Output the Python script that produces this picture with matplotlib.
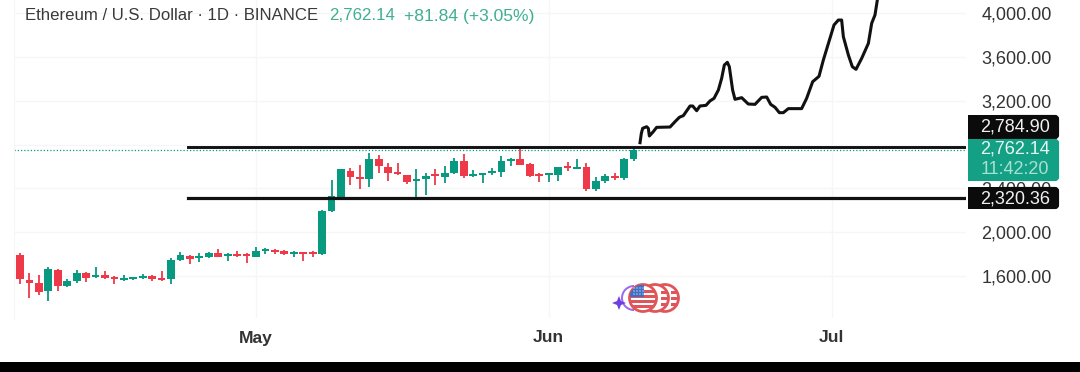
import numpy as np
from matplotlib import pyplot as plt
from matplotlib.patches import Rectangle, Circle, FancyBboxPatch, Wedge, Polygon

plt.rcParams['font.family'] = ['Liberation Sans', 'DejaVu Sans']

opens = [1795, 1563, 1539, 1460, 1655, 1508, 1551, 1630, 1588, 1612, 1584, 1563, 1572, 1578, 1600, 1578,
         1569, 1746, 1782, 1764, 1770, 1813, 1785, 1801, 1791, 1776, 1825, 1834, 1825, 1801, 1813, 1810,
         1801, 2190, 2324, 2562, 2501, 2482, 2665, 2598, 2537, 2519, 2470, 2489, 2522, 2507, 2537, 2653,
         2516, 2519, 2540, 2552, 2650, 2665, 2623, 2528, 2522, 2525, 2604, 2580, 2595, 2397, 2467, 2510,
         2492, 2665]
highs = [1807, 1624, 1606, 1685, 1661, 1575, 1655, 1636, 1679, 1648, 1600, 1606, 1594, 1618, 1606, 1648,
         1764, 1819, 1788, 1813, 1822, 1843, 1813, 1831, 1807, 1861, 1855, 1843, 1837, 1825, 1816, 1831,
         2202, 2476, 2574, 2583, 2613, 2720, 2705, 2629, 2635, 2522, 2574, 2537, 2574, 2604, 2674, 2714,
         2568, 2537, 2583, 2696, 2674, 2775, 2635, 2537, 2537, 2598, 2641, 2665, 2629, 2507, 2528, 2537,
         2674, 2781]
lows = [1527, 1402, 1429, 1374, 1466, 1496, 1533, 1548, 1581, 1569, 1527, 1551, 1560, 1572, 1557, 1557,
        1527, 1734, 1709, 1731, 1764, 1770, 1734, 1770, 1721, 1773, 1801, 1801, 1788, 1770, 1740, 1770,
        1795, 2181, 2309, 2431, 2394, 2409, 2543, 2470, 2519, 2437, 2318, 2339, 2431, 2446, 2531, 2492,
        2501, 2452, 2519, 2501, 2604, 2613, 2501, 2461, 2461, 2464, 2562, 2574, 2379, 2376, 2452, 2476,
        2476, 2653]
closes = [1569, 1539, 1457, 1661, 1508, 1554, 1630, 1581, 1612, 1578, 1572, 1572, 1584, 1603, 1572, 1566,
          1746, 1788, 1755, 1776, 1810, 1776, 1798, 1785, 1782, 1828, 1837, 1822, 1798, 1813, 1804, 1801,
          2193, 2330, 2574, 2501, 2489, 2665, 2604, 2537, 2528, 2461, 2482, 2513, 2513, 2537, 2653, 2513,
          2528, 2534, 2556, 2647, 2665, 2616, 2516, 2516, 2534, 2592, 2589, 2592, 2394, 2464, 2513, 2498,
          2665, 2750]

# hand drawn projection, x in candles
drawn_x = [65.68, 65.82, 65.96, 66.38, 66.56, 66.67, 67.09, 67.44, 68.86, 69.39, 69.85, 70.27, 70.98, 71.26,
           71.68, 72.03, 72.67, 73.09, 73.52, 73.98, 74.33, 74.61, 74.93, 75.14, 75.49, 75.74, 76.45, 77.15,
           77.86, 78.57, 79.10, 79.52, 79.98, 80.44, 80.86, 81.39, 82.80, 83.33, 83.97, 84.64, 85.10, 85.80,
           86.23, 86.69, 87.04, 87.22, 87.75, 88.17, 88.56, 89.16, 89.87, 90.22, 90.57, 90.82, 91.0]
drawn_y = [2817, 2902, 2948, 2963, 2948, 2878, 2918, 2957, 2960, 3009, 3049, 3064, 3152, 3152,
           3109, 3152, 3158, 3198, 3222, 3298, 3405, 3526, 3551, 3511, 3298, 3213, 3228, 3170,
           3167, 3231, 3234, 3167, 3140, 3091, 3091, 3128, 3128, 3222, 3374, 3423, 3572, 3770,
           3892, 3937, 3937, 3785, 3618, 3511, 3487, 3587, 3724, 3907, 3983, 4120, 4180]

price_ticks = [1600, 2000, 2400, 2800, 3200, 3600, 4000]
price_labels = ['1,600.00', '2,000.00', '2,400.00', '', '3,200.00', '3,600.00', '4,000.00']  # 2,800 sits behind the tags
month_pos = [25, 56, 86]
month_labels = ['May', 'Jun', 'Jul']
support = 2309
resistance = 2780
last_line = 2750

green = '#089981'
red = '#ee3a48'
grid = '#f5f6f8'
W, H = 1080, 372

fig = plt.figure(figsize=(W / 100, H / 100), dpi=100, facecolor='white')
ax = fig.add_axes([14 / W, 1 - 318 / H, 952 / W, 318 / H])
ax.set_xlim((14 - 20) / 9.44, (966 - 20) / 9.44)
ax.set_ylim(1216, 4120)

idx = np.arange(len(opens))
o, h, l, c = map(np.array, (opens, highs, lows, closes))
cols = [green if b >= a else red for a, b in zip(o, c)]

ax.vlines(idx, l, h, colors=cols, lw=1.3, zorder=3)
ax.bar(idx, np.maximum(np.abs(c - o), 18), bottom=np.minimum(o, c), width=0.82, color=cols, zorder=3)

ax.axhline(last_line, color=green, lw=0.9, ls=(0, (1, 1.6)), zorder=2)
x_start = (188 - 20) / 9.44
ax.plot([x_start, 101], [resistance] * 2, color='#111111', lw=2.1, zorder=4)
ax.plot([x_start, 101], [support] * 2, color='#111111', lw=2.3, zorder=4)
ax.plot(drawn_x, drawn_y, color='#111111', lw=2.2, zorder=5, solid_joinstyle='round')

ax.set_yticks(price_ticks)
ax.set_yticklabels(price_labels, fontsize=13, color='#333333')
ax.yaxis.tick_right()
ax.set_xticks(month_pos)
ax.set_xticklabels(month_labels, fontsize=12.6, fontweight='bold', color='#333333')
ax.tick_params(axis='both', length=0)
ax.tick_params(axis='y', pad=11)
ax.tick_params(axis='x', pad=9)
ax.grid(True, color=grid, lw=1)
ax.set_axisbelow(True)
for s in ['top', 'right', 'bottom']:
    ax.spines[s].set_visible(False)
ax.spines['left'].set_color(grid)

# overlay in pixels for the tags, header and icon
ov = fig.add_axes([0, 0, 1, 1])
ov.set_xlim(0, W)
ov.set_ylim(H, 0)
ov.axis('off')


def tag(y0, y1, color):
    ov.add_patch(Rectangle((968, y0), 60, y1 - y0, color=color, lw=0))
    ov.add_patch(FancyBboxPatch((1000, y0 + 2), 57, y1 - y0 - 4, boxstyle='round,pad=0,rounding_size=2',
                                mutation_aspect=1, fc=color, ec=color, lw=3))


tag(115, 139, '#0b0b0b')
tag(187, 209, '#0b0b0b')
tag(139, 181, '#14a085')
tag_font = dict(fontsize=13, ha='center', va='center')
ov.text(1015, 126.5, '2,784.90', color='#f0f0f0', **tag_font)
ov.text(1015, 149.5, '2,762.14', color='#e8f6f2', **tag_font)
ov.text(1015, 169, '11:42:20', color='#a8e0d2', **tag_font)
ov.text(1015, 198.5, '2,320.36', color='#f0f0f0', **tag_font)

ov.text(25, 16, 'Ethereum / U.S. Dollar · 1D · BINANCE', fontsize=12.1, color='#3a3a3a', va='center')
ov.text(329, 16, '2,762.14', fontsize=12.2, color='#3fae92', va='center')
ov.text(404, 16, '+81.84 (+3.05%)', fontsize=12.6, color='#3fae92', va='center')

# bottom black band
ov.add_patch(Rectangle((0, 362), W, 10, color='black', lw=0))

# flag coins icon
ov.add_patch(Wedge((634, 298), 13, 90, 270, width=2, color='#9a6af0', lw=0))
ov.add_patch(Polygon([(619, 296), (621, 301), (626, 303), (621, 305), (619, 310), (617, 305),
                      (612, 303), (617, 301)], color='#6d3fe0', lw=0))
for cx in [665, 655]:
    ov.add_patch(Circle((cx, 298), 13.5, fc='white', ec='#e0555a', lw=2))
    for sy in [291, 297, 303]:
        ov.add_patch(Rectangle((cx + 6, sy), 6.5, 2.5, color='#e0555a', lw=0))
disc = Circle((643, 298), 13.5, fc='white', ec='#e0555a', lw=2)
ov.add_patch(disc)
for sy in [290, 295, 300, 305]:
    st = Rectangle((630, sy), 26, 2.6, color='#e0555a', lw=0)
    ov.add_patch(st)
    st.set_clip_path(disc)
canton = Rectangle((630, 285), 14, 11.5, color='#3f6fc4', lw=0)
ov.add_patch(canton)
canton.set_clip_path(disc)
for dx in [634, 637, 640, 643]:
    for dy in [288, 291, 294]:
        ov.add_patch(Circle((dx, dy), 0.6, color='white', lw=0))

fig.savefig('out.png', dpi=100)
